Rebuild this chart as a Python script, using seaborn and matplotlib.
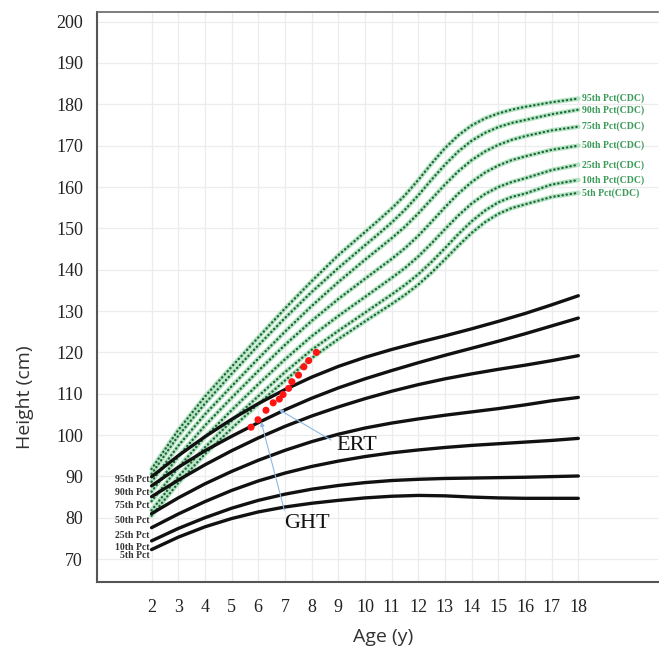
import matplotlib
matplotlib.use("Agg")
import matplotlib.pyplot as plt
import numpy as np
import pandas as pd
import seaborn as sns

# --- data ---
ages = list(range(2, 19))

# syndrome-specific reference curves (black)
pct_labels = ["95th Pct", "90th Pct", "75th Pct", "50th Pct", "25th Pct", "10th Pct", "5th Pct"]
syn_p95 = [89.9, 95.0, 99.6, 103.8, 107.6, 111.0, 114.0, 116.6, 118.8, 120.7, 122.4, 124.0, 125.7, 127.5, 129.4, 131.5, 133.7]
syn_p90 = [87.7, 92.2, 96.2, 99.7, 103.0, 106.1, 108.9, 111.4, 113.6, 115.6, 117.5, 119.3, 121.0, 122.7, 124.5, 126.4, 128.3]
syn_p75 = [85.1, 89.1, 92.8, 96.2, 99.3, 102.1, 104.6, 106.8, 108.8, 110.6, 112.2, 113.6, 114.8, 115.9, 116.9, 118.0, 119.2]
syn_p50 = [81.0, 84.8, 88.2, 91.2, 93.9, 96.3, 98.4, 100.2, 101.7, 102.9, 103.9, 104.8, 105.6, 106.4, 107.3, 108.3, 109.1]
syn_p25 = [77.6, 80.9, 83.9, 86.6, 88.9, 90.8, 92.4, 93.7, 94.8, 95.7, 96.4, 97.0, 97.5, 97.9, 98.3, 98.7, 99.2]
syn_p10 = [74.4, 77.4, 80.0, 82.3, 84.2, 85.7, 86.9, 87.8, 88.5, 89.0, 89.3, 89.5, 89.6, 89.7, 89.8, 89.95, 90.1]
syn_p5 = [72.3, 75.3, 77.8, 79.8, 81.4, 82.6, 83.5, 84.2, 84.8, 85.2, 85.4, 85.3, 85.0, 84.8, 84.7, 84.7, 84.7]
syn_label_y = [89.3, 86.0, 82.9, 79.4, 75.8, 72.7, 70.8]

# CDC reference curves (green dotted), denser sampling through puberty
cdc_ages = [2, 3, 4, 5, 6, 7, 8, 9, 10, 10.5, 11, 11.5, 12, 12.5, 13, 13.5, 14, 14.5, 15, 15.5, 16, 17, 18]
cdc_labels = ["95th Pct(CDC)", "90th Pct(CDC)", "75th Pct(CDC)", "50th Pct(CDC)",
              "25th Pct(CDC)", "10th Pct(CDC)", "5th Pct(CDC)"]
cdc_p95 = [91.8, 101.2, 109.3, 116.5, 123.6, 130.6, 137.2, 143.5, 149.1, 151.9, 154.8, 158.0, 161.7, 165.7, 169.4, 172.5, 174.9, 176.6, 177.8, 178.7, 179.4, 180.5, 181.4]
cdc_p90 = [90.6, 99.8, 107.6, 114.8, 121.7, 128.3, 134.6, 140.4, 145.9, 148.6, 151.4, 154.5, 158.0, 161.8, 165.4, 168.6, 171.2, 173.1, 174.5, 175.5, 176.2, 177.6, 178.7]
cdc_p75 = [88.7, 97.4, 105.0, 111.8, 118.5, 125.0, 131.2, 137.0, 142.4, 145.0, 147.6, 150.4, 153.6, 157.1, 160.6, 163.8, 166.5, 168.6, 170.2, 171.4, 172.3, 173.7, 174.6]
cdc_p50 = [86.3, 94.8, 102.3, 109.0, 115.5, 121.8, 127.6, 132.9, 137.8, 140.2, 142.6, 145.2, 148.2, 151.6, 155.1, 158.4, 161.2, 163.5, 165.2, 166.5, 167.4, 169.0, 170.0]
cdc_p25 = [84.0, 92.1, 99.5, 106.0, 112.3, 118.3, 123.9, 128.8, 133.4, 135.7, 138.0, 140.4, 143.2, 146.4, 149.8, 153.1, 156.0, 158.3, 160.0, 161.2, 162.1, 164.1, 165.4]
cdc_p10 = [81.8, 89.9, 97.0, 103.4, 109.4, 115.2, 120.6, 125.2, 129.6, 131.8, 134.0, 136.3, 138.9, 141.9, 145.2, 148.6, 151.7, 154.3, 156.3, 157.6, 158.4, 160.6, 161.7]
cdc_p5 = [80.5, 88.4, 95.4, 101.6, 107.5, 113.2, 118.6, 123.2, 127.5, 129.6, 131.7, 133.9, 136.4, 139.3, 142.5, 145.8, 148.9, 151.5, 153.5, 154.9, 155.8, 157.6, 158.6]

# patient measurements (red)
pt_age = [5.73, 5.99, 6.29, 6.56, 6.79, 6.93, 7.14, 7.26, 7.51, 7.71, 7.89, 8.18]
pt_height = [101.9, 103.7, 106.0, 107.8, 108.7, 109.8, 111.3, 112.9, 114.5, 116.5, 118.0, 120.0]

x_ticks = list(range(2, 19))
y_ticks = list(range(70, 201, 10))

syn = [syn_p95, syn_p90, syn_p75, syn_p50, syn_p25, syn_p10, syn_p5]
cdc = [cdc_p95, cdc_p90, cdc_p75, cdc_p50, cdc_p25, cdc_p10, cdc_p5]

df_syn = pd.DataFrame([(a, h, lab) for lab, vals in zip(pct_labels, syn) for a, h in zip(ages, vals)],
                      columns=["age", "height", "pct"])
df_cdc = pd.DataFrame([(a, h, lab) for lab, vals in zip(cdc_labels, cdc) for a, h in zip(cdc_ages, vals)],
                      columns=["age", "height", "pct"])
df_pt = pd.DataFrame({"age": pt_age, "height": pt_height})

# --- style ---
sns.set_theme(style="whitegrid")
plt.rcParams["font.family"] = ["Liberation Serif", "DejaVu Serif"]

fig, ax = plt.subplots(figsize=(6.59, 6.52), dpi=100)
fig.subplots_adjust(left=0.147, right=0.999, bottom=0.107, top=0.982)

# CDC curves: mint halo + dark dots
sns.lineplot(data=df_cdc, x="age", y="height", hue="pct", palette=["#b3e3c2"] * 7,
             lw=3.3, legend=False, estimator=None, sort=False, ax=ax, zorder=2)
sns.lineplot(data=df_cdc, x="age", y="height", hue="pct", palette=["#1d6434"] * 7,
             lw=1.7, linestyle=(0, (0.1, 1.65)), dash_capstyle="round",
             legend=False, estimator=None, sort=False, ax=ax, zorder=3)

# syndrome curves
sns.lineplot(data=df_syn, x="age", y="height", hue="pct", palette=["#111111"] * 7,
             lw=2.4, legend=False, estimator=None, sort=False, ax=ax, zorder=4)

# patient points
sns.scatterplot(data=df_pt, x="age", y="height", color="#ff1414", s=26,
                edgecolor="none", ax=ax, zorder=6)

# curve labels
for lab, yv in zip(pct_labels, syn_label_y):
    ax.text(1.92, yv, lab, ha="right", va="center", fontsize=7, fontweight="bold",
            color="#333333")
for lab, vals in zip(cdc_labels, cdc):
    ax.text(18.12, vals[-1], lab, ha="left", va="center", fontsize=7, fontweight="bold",
            color="#3a9a57")

# annotations
arrow = dict(arrowstyle="-|>", color="#8db8e3", lw=0.8, mutation_scale=6, shrinkA=0, shrinkB=0)
ax.annotate("", xy=(6.11, 103.2), xytext=(6.98, 81.8), arrowprops=arrow, zorder=5)
ax.annotate("", xy=(6.77, 106.2), xytext=(8.73, 98.8), arrowprops=arrow, zorder=5)
ax.text(7.83, 78.5, "GHT", ha="center", va="center", fontsize=16, color="#111111")
ax.text(9.70, 97.5, "ERT", ha="center", va="center", fontsize=16, color="#111111")

# axes
ax.set_xlim(-0.05, 21.0)
ax.set_ylim(64.4, 202.4)
ax.set_xticks(x_ticks)
ax.set_yticks(y_ticks)
ax.grid(True, color="#ececec", lw=0.9)
ax.set_axisbelow(True)
ax.set_xlabel("")
ax.set_ylabel("")
ax.tick_params(axis="both", direction="out", length=5, width=1.2, color="#555555",
               labelsize=13, labelcolor="#222222")
ax.tick_params(axis="x", pad=7)
ax.tick_params(axis="y", pad=5)
for side in ["left", "bottom"]:
    ax.spines[side].set_color("#555555")
    ax.spines[side].set_linewidth(1.5)
ax.spines["top"].set_color("#666666")
ax.spines["top"].set_linewidth(1.2)
ax.spines["right"].set_visible(False)

fig.text(25 / 659, 1 - 397 / 652, "Height (cm)", rotation=90, ha="center", va="center",
         fontsize=14, color="#333333", family=["Open Sans", "DejaVu Sans"])
fig.text(383 / 659, 1 - 637 / 652, "Age (y)", ha="center", va="center",
         fontsize=14, color="#333333", family=["Open Sans", "DejaVu Sans"])

fig.savefig("out.png", dpi=100)
